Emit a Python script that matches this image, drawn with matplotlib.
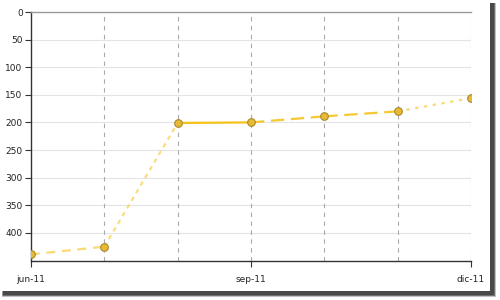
import matplotlib
matplotlib.use("Agg")
import matplotlib.pyplot as plt
from matplotlib.patches import Rectangle

months = ["jun-11", "jul-11", "ago-11", "sep-11", "oct-11", "nov-11", "dic-11"]
values = [439, 425, 201, 200, 189, 180, 156]
seg_styles = [(0, (4, 3)), (0, (2, 2)), "-", (0, (6, 3)), (0, (6, 3)), (0, (1.5, 2.5))]
seg_alpha = [0.6, 0.55, 1.0, 0.9, 0.9, 0.6]
xtick_labels = {0: "jun-11", 3: "sep-11", 6: "dic-11"}
yticks = [0, 50, 100, 150, 200, 250, 300, 350, 400]

W, H = 500.0, 300.0
fig = plt.figure(figsize=(5, 3), dpi=100)
fig.patch.set_facecolor("white")

# soft drop shadow (layered rectangles), card occupies x 0..490, y 0..291 (px from top)
for k, a in enumerate([0.12, 0.18, 0.25, 0.35, 0.5]):
    grow = 4 - k
    x0 = 3 - grow * 0.3
    x1 = 494 + grow * 0.6
    y0 = 3
    y1 = 295 + grow * 0.6
    fig.patches.append(Rectangle((x0 / W, 1 - y1 / H), (x1 - x0) / W, (y1 - y0) / H,
                                 transform=fig.transFigure, facecolor="#222222",
                                 alpha=a, edgecolor="none", zorder=-3))
fig.patches.append(Rectangle((0, 1 - 291 / H), 490 / W, 291 / H, transform=fig.transFigure,
                             facecolor="white", edgecolor="none", zorder=-1))

ax = fig.add_axes([31 / W, 1 - 261 / H, 440 / W, 249 / H])
ax.set_facecolor("none")
x = list(range(len(months)))

for i in range(len(values) - 1):
    ax.plot(x[i:i + 2], values[i:i + 2], color="#f5c21a", lw=1.6,
            linestyle=seg_styles[i], alpha=seg_alpha[i], zorder=3,
            solid_capstyle="butt", dash_capstyle="butt")
ax.plot(x, values, linestyle="none", marker="o", ms=5.5, mfc="#e9b935",
        mec="#a88a2a", mew=0.8, zorder=4)

ax.set_xlim(0, 6)
ax.set_ylim(451, 0)
ax.set_yticks(yticks)
ax.set_yticklabels([str(v) for v in yticks], fontsize=6.5, color="#222222")
ax.set_xticks(list(xtick_labels.keys()))
ax.set_xticklabels(list(xtick_labels.values()), fontsize=6.5, color="#222222")
ax.tick_params(axis="y", length=4, width=0.8, color="#333333", pad=2)
ax.tick_params(axis="x", length=4, width=0.8, color="#333333", pad=6)

for v in yticks[1:]:
    ax.axhline(v, color="#e4e4e4", lw=0.8, zorder=0)
for xi in x[1:]:
    ax.axvline(xi, color="#aaaaaa", lw=0.8, linestyle=(0, (4, 4)), zorder=1)

for s in ["left", "bottom"]:
    ax.spines[s].set_color("#333333")
    ax.spines[s].set_linewidth(1.0)
ax.spines["top"].set_color("#999999")
ax.spines["top"].set_linewidth(1.0)
ax.spines["right"].set_visible(False)

fig.savefig("out.png", dpi=100)
